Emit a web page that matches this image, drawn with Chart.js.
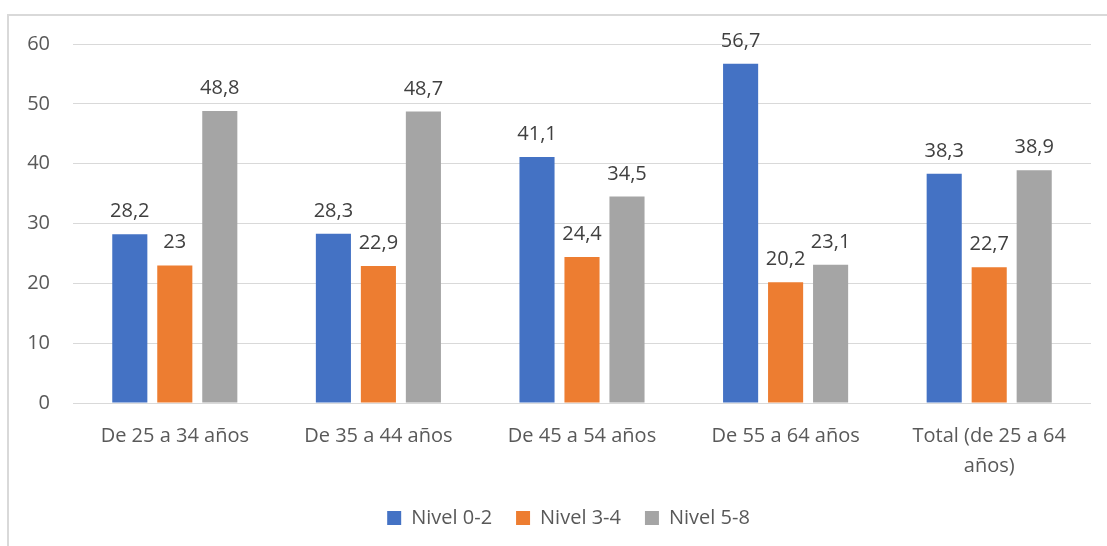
<!DOCTYPE html>
<html>
<head>
<meta charset="utf-8">
<script src="https://cdn.jsdelivr.net/npm/chart.js@4.4.0/dist/chart.umd.min.js"></script>
<style>
  html, body { margin: 0; padding: 0; background: #ffffff; }
  #wrap { position: relative; width: 1107px; height: 546px; overflow: hidden; background: #fff; }
  #frame { position: absolute; left: 7px; top: 14px; width: 1200px; height: 700px; border: 2px solid #d9d9d9; box-sizing: border-box; }
  #cv { position: absolute; left: 0; top: 0; }
</style>
</head>
<body>
<div id="wrap">
  <div id="frame"></div>
  <canvas id="cv" width="1137" height="546"></canvas>
</div>
<script>
const categories = [
  "De 25 a 34 años",
  "De 35 a 44 años",
  "De 45 a 54 años",
  "De 55 a 64 años",
  ["Total (de 25 a 64", "años)"]
];
const seriesNames = ["Nivel 0-2", "Nivel 3-4", "Nivel 5-8"];
const nivel02 = [28.2, 28.3, 41.1, 56.7, 38.3];
const nivel34 = [23, 22.9, 24.4, 20.2, 22.7];
const nivel58 = [48.8, 48.7, 34.5, 23.1, 38.9];
const seriesColors = ["#4472C4", "#ED7D31", "#A5A5A5"];
const yTicks = { min: 0, max: 60, step: 10 };

const FONT = "'Open Sans', 'Noto Sans', sans-serif";
const FS = 20;

const valueLabels = {
  id: 'valueLabels',
  afterDatasetsDraw(chart) {
    const ctx = chart.ctx;
    ctx.save();
    ctx.font = FS + "px " + FONT;
    ctx.fillStyle = "#404040";
    ctx.textAlign = "center";
    ctx.textBaseline = "alphabetic";
    chart.data.datasets.forEach((ds, i) => {
      const meta = chart.getDatasetMeta(i);
      meta.data.forEach((el, j) => {
        const txt = String(ds.data[j]).replace('.', ',');
        ctx.fillText(txt, el.x, el.y - 17);
      });
    });
    ctx.restore();
  }
};

const allSeries = [nivel02, nivel34, nivel58];

new Chart(document.getElementById('cv'), {
  type: 'bar',
  data: {
    labels: categories,
    datasets: allSeries.map((d, i) => ({
      label: seriesNames[i],
      data: d,
      backgroundColor: seriesColors[i],
      borderWidth: 0,
      categoryPercentage: 0.663,
      barPercentage: 0.78
    }))
  },
  options: {
    responsive: false,
    animation: false,
    devicePixelRatio: 1,
    layout: { padding: { top: 44, right: 0, left: 0, bottom: 8 } },
    plugins: {
      legend: {
        position: 'bottom',
        labels: {
          boxWidth: 14,
          boxHeight: 14,
          padding: 24,
          color: '#595959',
          font: { family: FONT, size: FS }
        }
      },
      tooltip: { enabled: false }
    },
    scales: {
      x: {
        grid: { display: false, drawTicks: false },
        border: { display: false },
        ticks: {
          color: '#595959',
          font: { family: FONT, size: FS, lineHeight: 1.5 },
          padding: 18,
          maxRotation: 0,
          autoSkip: false
        },
        afterFit(s) { s.height = 81; }
      },
      y: {
        min: yTicks.min,
        max: yTicks.max,
        ticks: {
          stepSize: yTicks.step,
          color: '#595959',
          font: { family: FONT, size: FS },
          padding: 23
        },
        grid: { color: '#d9d9d9', lineWidth: 1, drawTicks: false },
        border: { display: false },
        afterFit(s) { s.width = 73; }
      },
      yRight: {
        type: 'linear',
        position: 'right',
        display: true,
        min: yTicks.min,
        max: yTicks.max,
        ticks: { display: false },
        grid: { display: false, drawTicks: false },
        border: { display: false },
        afterFit(s) { s.width = 46; }
      }
    }
  },
  plugins: [valueLabels]
});
</script>
</body>
</html>
